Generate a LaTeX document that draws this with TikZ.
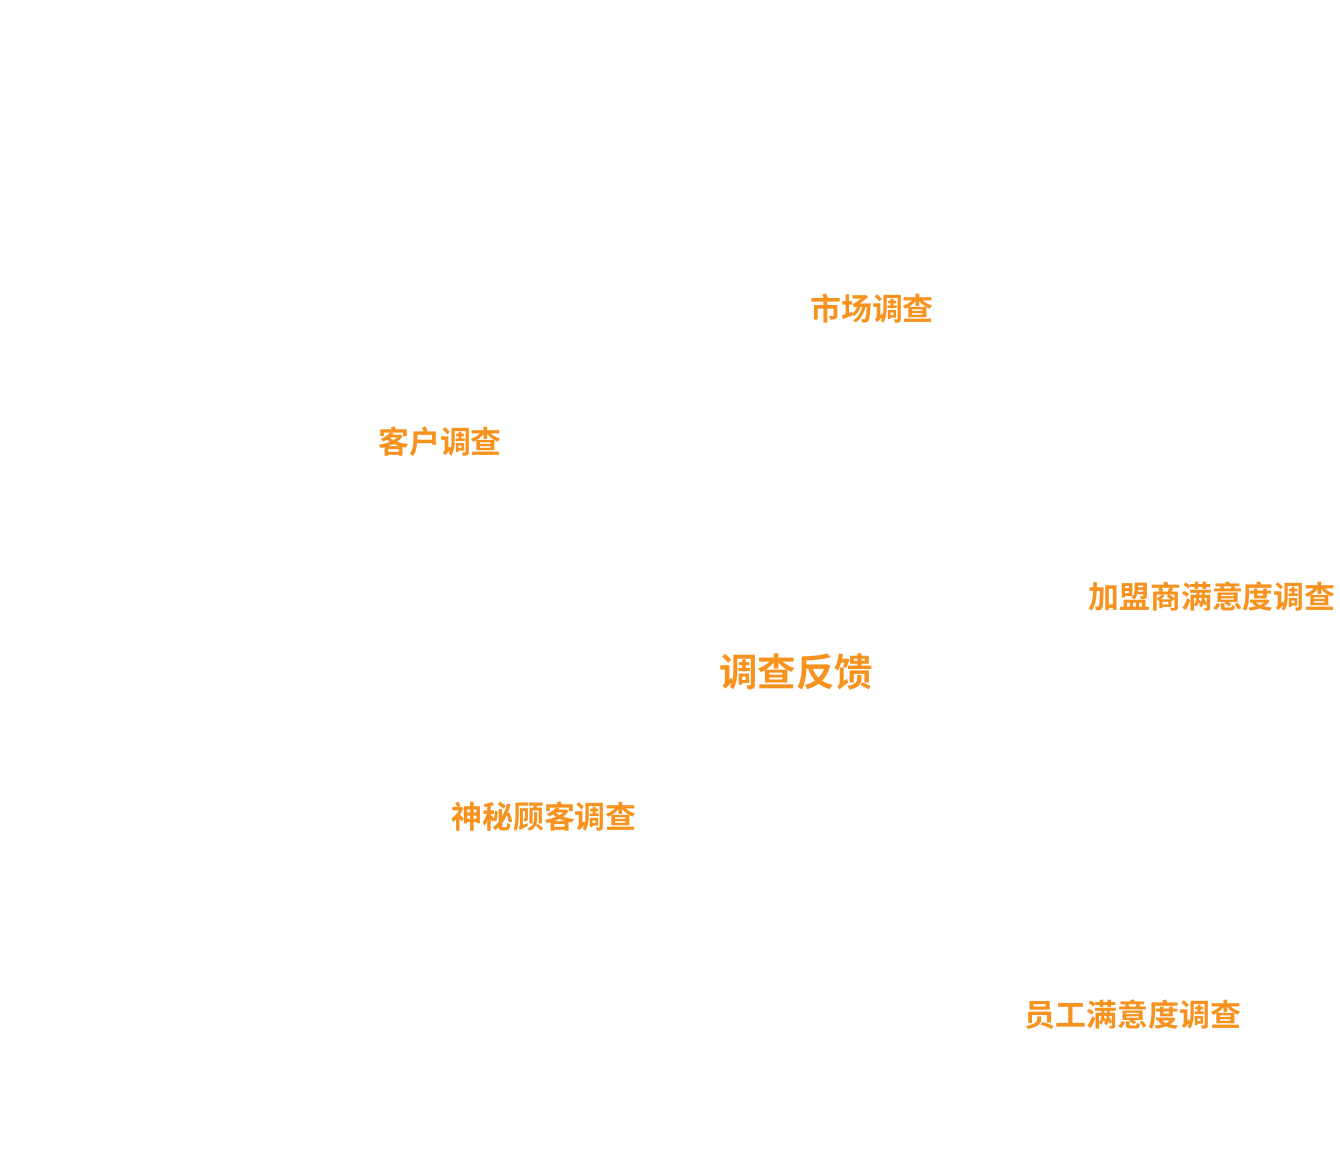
\documentclass[tikz,border=0pt]{standalone}
\usepackage{fontspec}
\newfontfamily\cjk{Noto Sans CJK SC}[BoldFont={Noto Sans CJK SC Bold}]
\usepackage{tikz}
\usetikzlibrary{positioning}
\definecolor{survorange}{RGB}{247,146,30}

\begin{document}
\begin{tikzpicture}[x=0.02cm,y=-0.02cm, item/.style={text=survorange,inner sep=0pt,font=\cjk\bfseries\fontsize{17.6}{20}\selectfont},hub/.style={item,font=\cjk\bfseries\fontsize{21.9}{25}\selectfont}]
              \useasboundingbox (0,0) rectangle (1340,1160);
              \node[hub] (fb) at (796,672) {调查反馈};

              \node[item] (mkt) at (872,309) {市场调查};
              \node[item] (cust) at (440,442) {客户调查};
              \node[item] (fran) at (1212,597) {加盟商满意度调查};
              \node[item] (myst) at (544,817) {神秘顾客调查};
              \node[item] (staff) at (1133,1015) {员工满意度调查};
            \end{tikzpicture}
\end{document}
